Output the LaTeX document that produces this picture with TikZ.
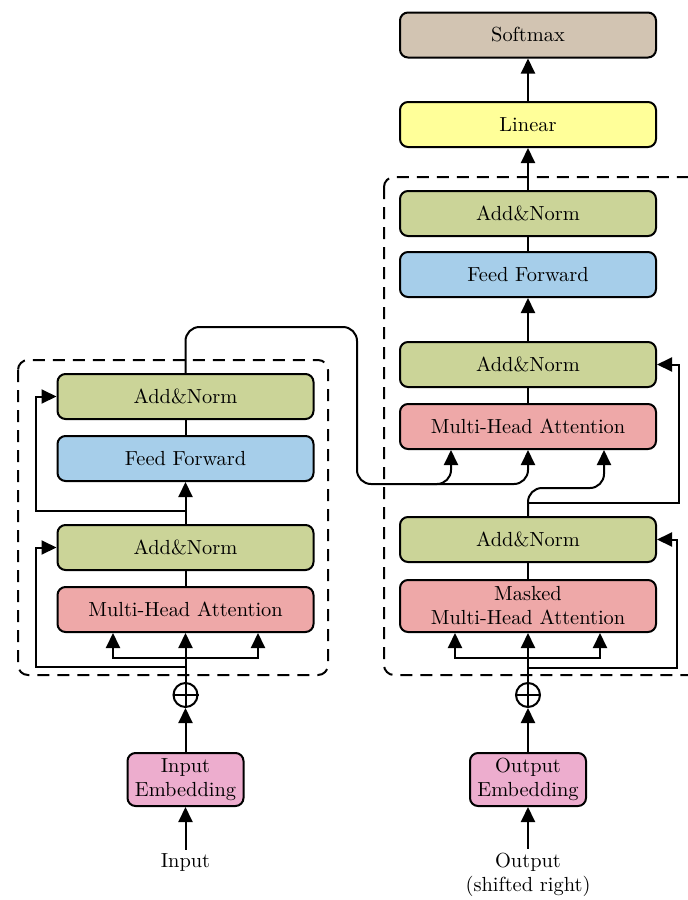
\documentclass[tikz,border=0pt]{standalone}
\usepackage{amsmath}
\usepackage{tikz}
\usetikzlibrary{arrows.meta}

\definecolor{normgreen}{RGB}{203,212,152}
\definecolor{ffblue}{RGB}{166,206,234}
\definecolor{attred}{RGB}{238,168,168}
\definecolor{embpink}{RGB}{237,173,206}
\definecolor{linyellow}{RGB}{255,255,153}
\definecolor{smaxtan}{RGB}{210,196,178}

\tikzset{
    block/.style={draw, line width=1pt, rounded corners=4pt, minimum width=128pt,
        minimum height=22.5pt, align=center, inner sep=1pt,
        font=\fontsize{10.2}{12}\selectfont},
    embblock/.style={block, fill=embpink, minimum width=58pt, minimum height=26.5pt},
    addsign/.style={draw, line width=1pt, circle, minimum size=12pt, inner sep=0pt},
    lbl/.style={align=center, inner sep=2pt, font=\fontsize{10.2}{12}\selectfont},
    conn/.style={line width=1pt},
    arr/.style={line width=1pt, -{Triangle[length=7.5pt,width=7pt]}},
    frame/.style={line width=1pt, dash pattern=on 6pt off 4pt, rounded corners=5pt}
}

\begin{document}
\begin{tikzpicture}[x=0.5pt, y=-0.5pt]
        \useasboundingbox (0,0) rectangle (688,900);

        % dashed frames
        \draw[frame] (18,360) rectangle (328,675);
        \draw[frame] (384,177) rectangle (720,675);

        % encoder
        \node[block, fill=normgreen] (enAddTop) at (185.5,396.5) {Add\&Norm};
        \node[block, fill=ffblue] (enFF) at (185.5,458.5) {Feed Forward};
        \node[block, fill=normgreen] (enAddBot) at (185.5,547.5) {Add\&Norm};
        \node[block, fill=attred] (enMHA) at (185.5,609.5) {Multi-Head Attention};
        \node[addsign] (enPlus) at (185.5,695) {};
        \node[embblock] (enEmb) at (185.5,779.5) {Input\\Embedding};
        \node[lbl] (inLbl) at (185.5,863) {Input};

        % decoder
        \node[block, fill=smaxtan] (smax) at (528,35) {Softmax};
        \node[block, fill=linyellow] (lin) at (528,124.5) {Linear};
        \node[block, fill=normgreen] (deAddTop) at (528,213.5) {Add\&Norm};
        \node[block, fill=ffblue] (deFF) at (528,274.5) {Feed Forward};
        \node[block, fill=normgreen] (deAddMid) at (528,364.5) {Add\&Norm};
        \node[block, fill=attred] (deMHA) at (528,426.5) {Multi-Head Attention};
        \node[block, fill=normgreen] (deAddBot) at (528,539.5) {Add\&Norm};
        \node[block, fill=attred, minimum height=26pt] (deMMHA) at (528,606) {Masked\\Multi-Head Attention};
        \node[addsign] (dePlus) at (528,695) {};
        \node[embblock] (deEmb) at (528,779.5) {Output\\Embedding};
        \node[lbl] (outLbl) at (528,875) {Output\\(shifted right)};

        % plus signs
        \draw[conn] (enPlus.west) -- (enPlus.east);
        \draw[conn] (enPlus.south) -- (enPlus.north);
        \draw[conn] (dePlus.west) -- (dePlus.east);
        \draw[conn] (dePlus.south) -- (dePlus.north);

        \coordinate (enFan) at (185.5,658);
        \coordinate (enRes1) at (185.5,667);
        \coordinate (enRes2) at (185.5,511);
        \coordinate (deFan) at (528,658);
        \coordinate (deRes1) at (528,668);
        \coordinate (deRes2) at (528,503);
        \coordinate (memSplit) at (420,484);

        % encoder flow
        \draw[arr] (inLbl.north) -- (enEmb.south);
        \draw[arr] (enEmb.north) -- (enPlus.south);
        \draw[arr] (enPlus.north) -- (enMHA.south);
        \draw[arr] (enFan) -| ([xshift=-36.25pt]enMHA.south);
        \draw[arr] (enFan) -| ([xshift=36.25pt]enMHA.south);
        \draw[arr] (enRes1) -| ([xshift=-10.5pt]enAddBot.west) -- (enAddBot.west);
        \draw[conn] (enMHA.north) -- (enAddBot.south);
        \draw[arr] (enAddBot.north) -- (enFF.south);
        \draw[arr] (enRes2) -| ([xshift=-10.5pt]enAddTop.west) -- (enAddTop.west);
        \draw[conn] (enFF.north) -- (enAddTop.south);

        % encoder output into decoder
        \draw[arr, rounded corners=7pt] (enAddTop.north) |- (357,327) -- (357,484) -| (deMHA.south);
        \draw[arr, rounded corners=7pt] (memSplit) -| ([xshift=-38.5pt]deMHA.south);

        % decoder flow
        \draw[arr] (outLbl.north) -- (deEmb.south);
        \draw[arr] (deEmb.north) -- (dePlus.south);
        \draw[arr] (dePlus.north) -- (deMMHA.south);
        \draw[arr] (deFan) -| ([xshift=-36.5pt]deMMHA.south);
        \draw[arr] (deFan) -| ([xshift=36pt]deMMHA.south);
        \draw[arr] (deRes1) -| ([xshift=10pt]deAddBot.east) -- (deAddBot.east);
        \draw[conn] (deMMHA.north) -- (deAddBot.south);
        \draw[arr, rounded corners=7pt] (deAddBot.north) |- (570,488) -| ([xshift=38pt]deMHA.south);
        \draw[arr] (deRes2) -| ([xshift=11pt]deAddMid.east) -- (deAddMid.east);
        \draw[conn] (deMHA.north) -- (deAddMid.south);
        \draw[arr] (deAddMid.north) -- (deFF.south);
        \draw[conn] (deFF.north) -- (deAddTop.south);
        \draw[arr] (deAddTop.north) -- (lin.south);
        \draw[arr] (lin.north) -- (smax.south);
    \end{tikzpicture}
\end{document}
